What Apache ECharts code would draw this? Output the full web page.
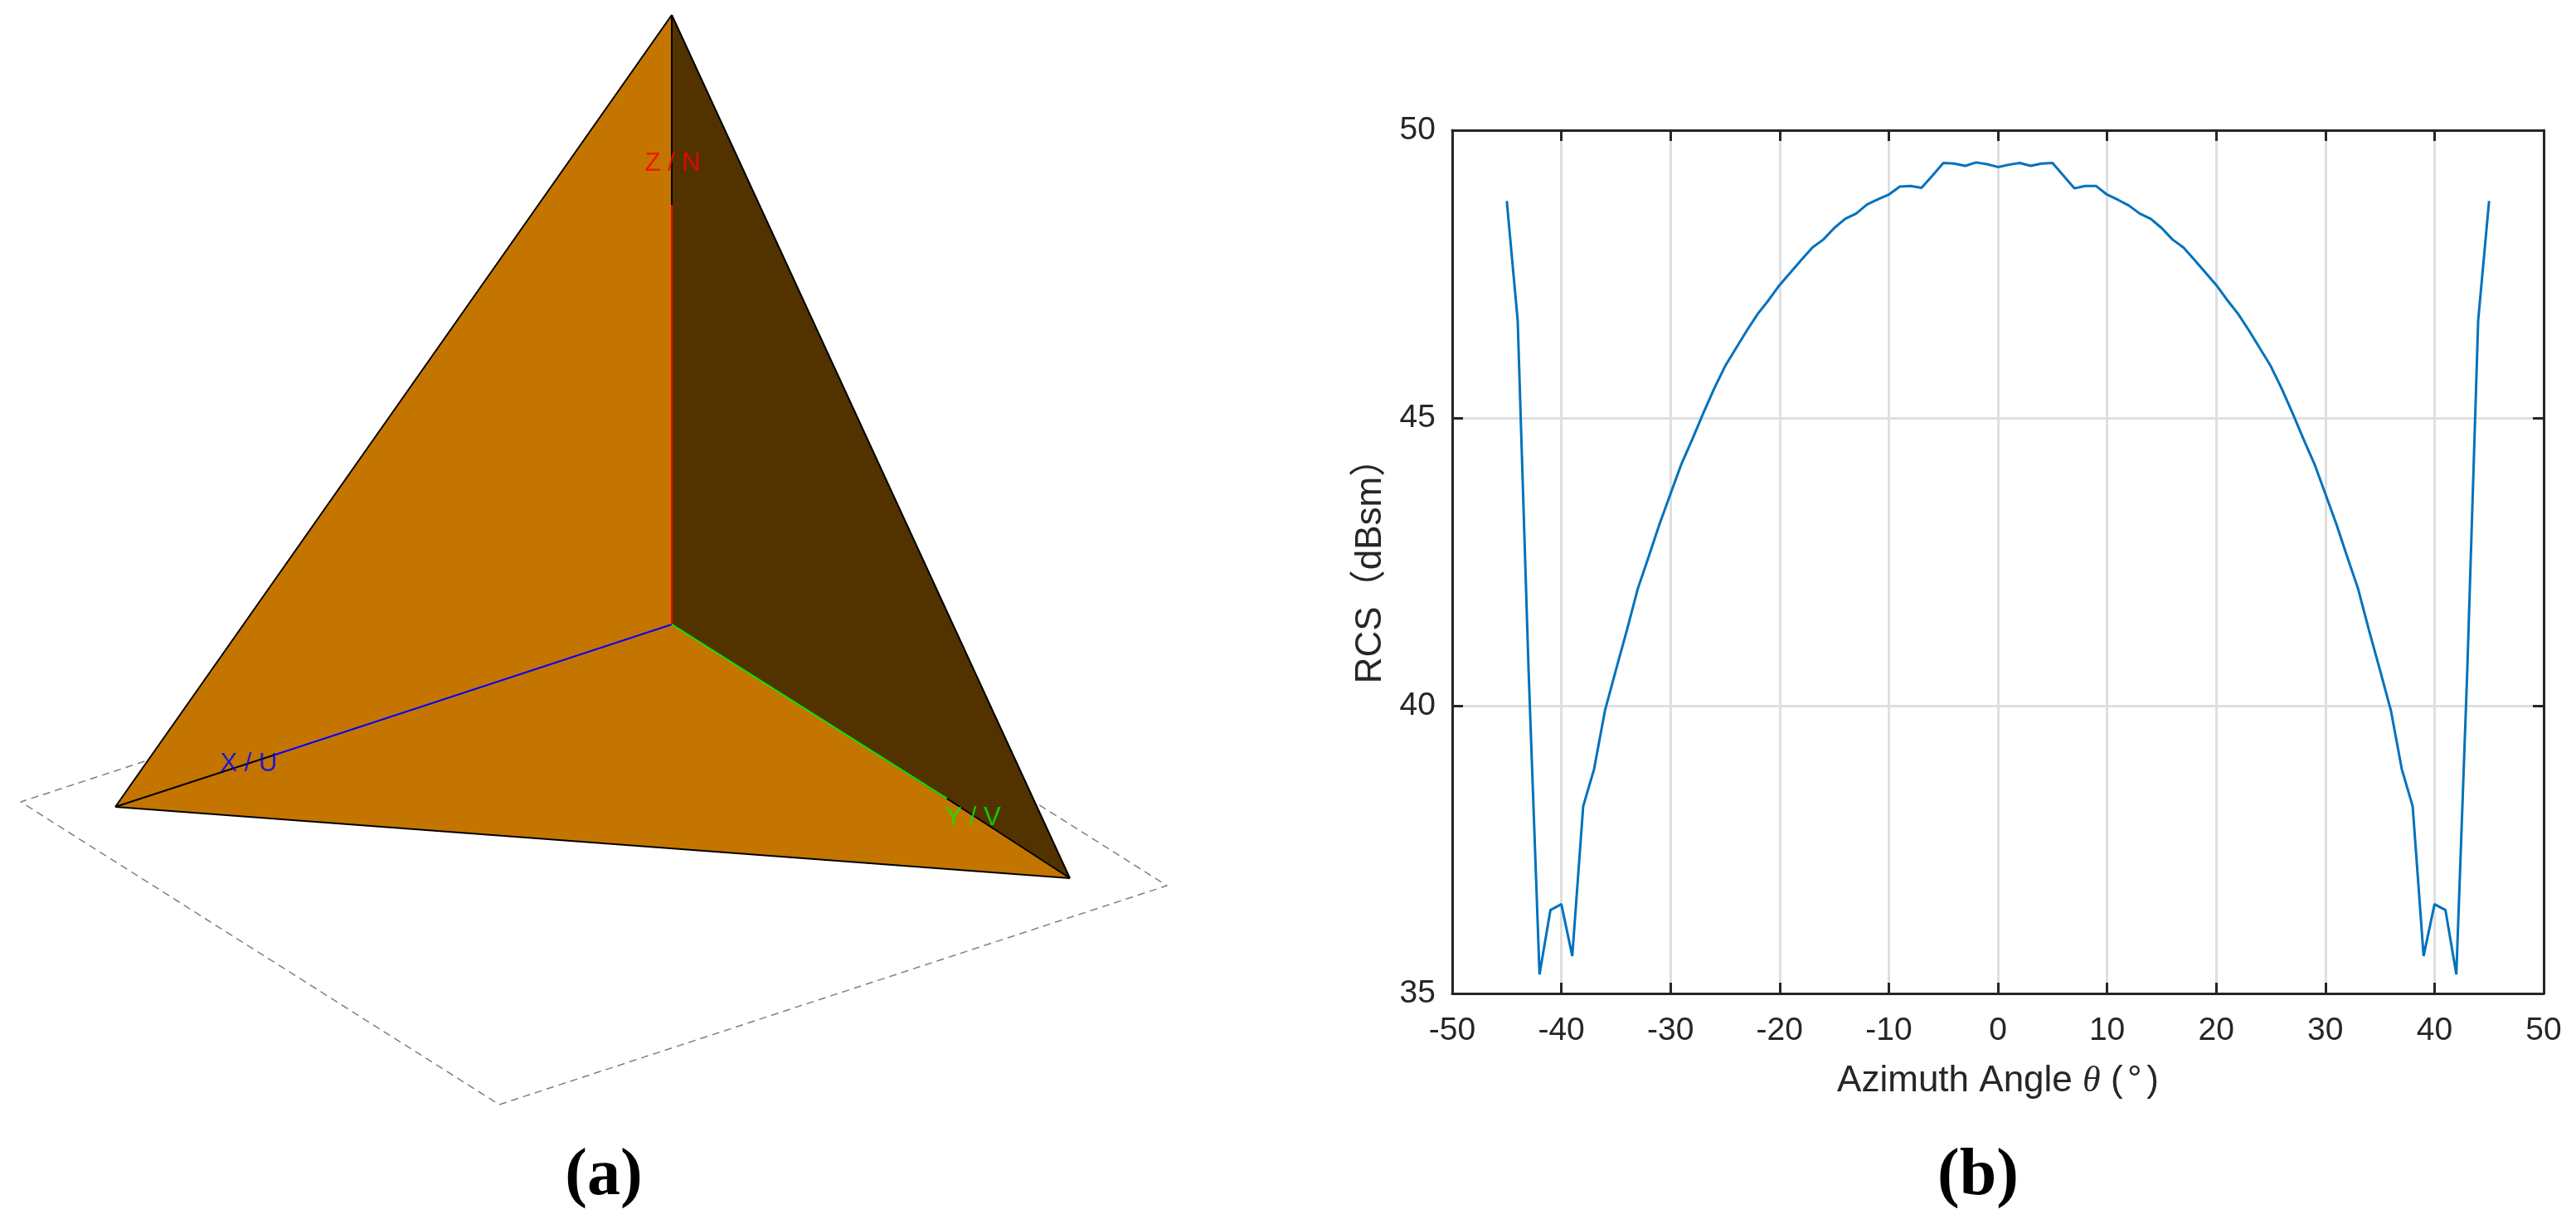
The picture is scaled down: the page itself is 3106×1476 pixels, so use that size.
<!DOCTYPE html>
<html>
<head>
<meta charset="utf-8">
<title>Pyramid model and RCS curve</title>
<script src="https://cdn.jsdelivr.net/npm/echarts@6/dist/echarts.min.js"></script>
<style>
  html, body { margin: 0; padding: 0; background: #fff; }
  #chart { width: 3106px; height: 1476px; }
</style>
</head>
<body>
<div id="chart"></div>
<script>
// (b) RCS curve, one sample per degree
var azimuth = [
  -45, -44, -43, -42, -41, -40, -39, -38, -37, -36, -35, -34, -33, -32, -31, -30,
  -29, -28, -27, -26, -25, -24, -23, -22, -21, -20, -19, -18, -17, -16, -15, -14,
  -13, -12, -11, -10, -9, -8, -7, -6, -5, -4, -3, -2, -1, 0, 1, 2, 3, 4, 5, 6, 7,
  8, 9, 10, 11, 12, 13, 14, 15, 16, 17, 18, 19, 20, 21, 22, 23, 24, 25, 26, 27, 28,
  29, 30, 31, 32, 33, 34, 35, 36, 37, 38, 39, 40, 41, 42, 43, 44, 45
];
var rcs = [
  48.77, 46.69, 40.6, 35.33, 36.45, 36.55, 35.65, 38.25, 38.9, 39.92, 40.62, 41.31, 42.03, 42.59, 43.16, 43.68,
  44.2, 44.63, 45.08, 45.51, 45.9, 46.21, 46.52, 46.81, 47.05, 47.31, 47.53, 47.75, 47.96, 48.1, 48.3, 48.46,
  48.55, 48.71, 48.8, 48.88, 49.02, 49.03, 49.0, 49.21, 49.43, 49.42, 49.38, 49.44, 49.41, 49.36, 49.4, 49.43, 49.38, 49.42, 49.43, 49.21, 48.99,
  49.03, 49.03, 48.88, 48.79, 48.69, 48.55, 48.46, 48.3, 48.1, 47.96, 47.75, 47.53, 47.31, 47.05, 46.81, 46.52, 46.21, 45.9, 45.51, 45.08, 44.63,
  44.2, 43.68, 43.16, 42.59, 42.03, 41.31, 40.62, 39.92, 38.9, 38.25, 35.65, 36.55, 36.45, 35.33, 40.6, 46.69, 48.77
];

// (a) pyramid model, vertices
var apex = [810, 18];
var leftCorner = [139, 973];
var rightCorner = [1290, 1059];
var origin = [810, 753];
var ground = [[830, 703], [25, 967], [602, 1332], [1407, 1068], [830, 703]];
var zEnd = [810, 247];
var xEnd = [332, 910];
var yEnd = [1142, 963];
var faces = [
  { color: "#C47500", points: [apex, leftCorner, origin] },
  { color: "#C47500", points: [leftCorner, rightCorner, origin] },
  { color: "#523300", points: [apex, origin, rightCorner] }
];
var blackEdges = [
  [apex, leftCorner], [apex, rightCorner], [leftCorner, rightCorner],
  [zEnd, apex], [xEnd, leftCorner], [yEnd, rightCorner]
];
var axisLabels = [
  { name: "Z / N", value: [811, 197], color: "#FF0000" },
  { name: "X / U", value: [300, 921], color: "#0000FF" },
  { name: "Y / V", value: [1173, 986], color: "#00F000" }
];

var darkText = "#262626";
var sansFont = '"Liberation Sans", "Noto Sans CJK SC", sans-serif';
var serifFont = '"Liberation Serif", serif';

function frameAxis(extra) {
  // shared look of the box axes on the right plot
  return Object.assign({
    type: "value",
    gridIndex: 1,
    axisLine: { show: true, onZero: false, lineStyle: { color: darkText, width: 3 } },
    axisTick: { show: true, inside: true, length: 13, lineStyle: { color: darkText, width: 3 } },
    axisLabel: { show: false },
    splitLine: { show: false }
  }, extra);
}

function edgeSeries(points, color) {
  return {
    type: "line",
    xAxisIndex: 0,
    yAxisIndex: 0,
    data: points,
    showSymbol: false,
    silent: true,
    z: 5,
    lineStyle: { color: color, width: 2 }
  };
}

function caption(letter, left) {
  return {
    text: "{p|(}{b|" + letter + "}{p|)}",
    left: left,
    top: 1374,
    textAlign: "center",
    textStyle: {
      rich: {
        p: { fontFamily: serifFont, fontSize: 80, color: "#000" },
        b: { fontFamily: serifFont, fontSize: 80, fontWeight: "bold", color: "#000" }
      }
    }
  };
}

var chart = echarts.init(document.getElementById("chart"));

var series = [
  // ground square goes under the faces
  {
    type: "line",
    xAxisIndex: 0,
    yAxisIndex: 0,
    data: ground,
    showSymbol: false,
    silent: true,
    z: 1,
    lineStyle: { color: "#808080", width: 1.5, type: [9, 6] }
  },
  {
    type: "custom",
    xAxisIndex: 0,
    yAxisIndex: 0,
    data: faces.map(function (f, i) { return [i]; }),
    encode: { x: [], y: [] },
    silent: true,
    z: 2,
    renderItem: function (params, api) {
      var face = faces[params.dataIndex];
      return {
        type: "polygon",
        shape: { points: face.points.map(function (p) { return api.coord(p); }) },
        style: { fill: face.color }
      };
    }
  },
  edgeSeries([origin, zEnd], "#FF0000"),
  edgeSeries([origin, xEnd], "#0000FF"),
  edgeSeries([origin, yEnd], "#00F000")
];

blackEdges.forEach(function (edge) {
  series.push(edgeSeries(edge, "#000000"));
});

series.push({
  type: "scatter",
  xAxisIndex: 0,
  yAxisIndex: 0,
  symbolSize: 0,
  silent: true,
  z: 6,
  data: axisLabels.map(function (item) {
    return {
      name: item.name,
      value: item.value,
      label: {
        show: true,
        position: "inside",
        formatter: "{b}",
        color: item.color,
        fontFamily: sansFont,
        fontSize: 31
      }
    };
  })
});

series.push({
  type: "line",
  name: "RCS",
  xAxisIndex: 1,
  yAxisIndex: 1,
  data: azimuth.map(function (a, i) { return [a, rcs[i]]; }),
  showSymbol: false,
  z: 5,
  lineStyle: { color: "#0072BD", width: 3 }
});

chart.setOption({
  animation: false,
  backgroundColor: "#fff",
  title: [caption("a", 723), caption("b", 2380)],
  grid: [
    { left: 0, top: 0, width: 1553, height: 1476 },
    { left: 1751, top: 157, width: 1316, height: 1041 }
  ],
  xAxis: [
    { type: "value", gridIndex: 0, min: 0, max: 1553, show: false },
    frameAxis({
      min: -50,
      max: 50,
      interval: 10,
      position: "bottom",
      name: "Azimuth Angle {t|θ} ({s| }°{s| })",
      nameLocation: "middle",
      nameGap: 84,
      nameTextStyle: {
        color: darkText,
        fontFamily: sansFont,
        fontSize: 44,
        rich: {
          t: { fontFamily: serifFont, fontStyle: "italic", fontSize: 44, color: darkText },
          s: { fontFamily: sansFont, fontSize: 20, color: darkText }
        }
      },
      axisLabel: { show: true, color: darkText, fontFamily: sansFont, fontSize: 39, margin: 26 },
      splitLine: { show: true, lineStyle: { color: "#DFDFDF", width: 3 } }
    }),
    frameAxis({ min: -50, max: 50, interval: 10, position: "top" })
  ],
  yAxis: [
    { type: "value", gridIndex: 0, min: 0, max: 1476, inverse: true, show: false },
    frameAxis({
      min: 35,
      max: 50,
      interval: 5,
      position: "left",
      name: "RCS（dBsm）",
      nameLocation: "middle",
      nameGap: 76,
      nameTextStyle: { color: darkText, fontFamily: sansFont, fontSize: 44 },
      axisLabel: {
        show: true,
        color: darkText,
        fontFamily: sansFont,
        fontSize: 39,
        margin: 20,
        padding: [7, 0, 0, 0]
      },
      splitLine: { show: true, lineStyle: { color: "#DFDFDF", width: 3 } }
    }),
    frameAxis({ min: 35, max: 50, interval: 5, position: "right" })
  ],
  series: series
});
</script>
</body>
</html>
